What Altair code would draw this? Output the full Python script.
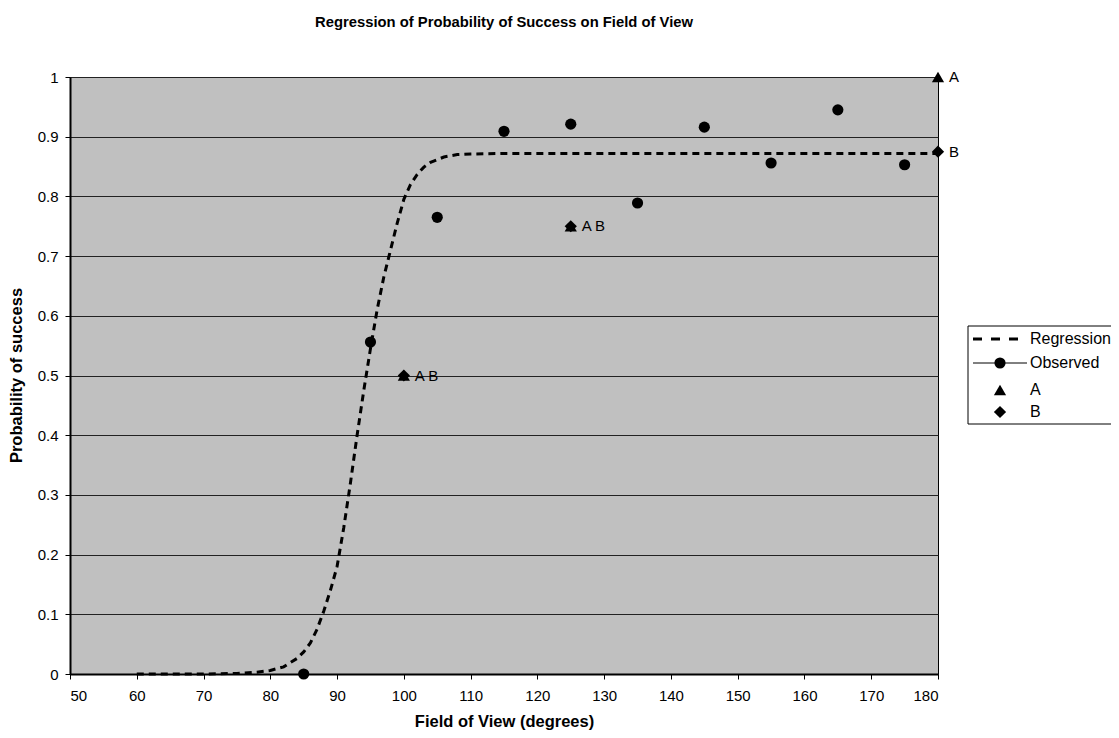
import altair as alt
import pandas as pd

FONT = "Liberation Sans"

# Regression curve
reg_x = [60, 65, 70, 75, 78, 80, 82, 84, 85, 86, 87, 88, 89, 90, 91, 92, 93, 94, 95,
         96, 97, 98, 99, 100, 101, 102, 103, 104, 106, 108, 110, 115, 120, 130, 140,
         150, 160, 170, 180]
reg_y = [0.0, 0.0, 0.0, 0.001, 0.003, 0.006, 0.012, 0.026, 0.037, 0.052, 0.075, 0.105,
         0.14, 0.18, 0.245, 0.32, 0.40, 0.475, 0.545, 0.61, 0.665, 0.71, 0.755, 0.795,
         0.82, 0.837, 0.849, 0.857, 0.866, 0.870, 0.871, 0.872, 0.872, 0.872, 0.872,
         0.872, 0.872, 0.872, 0.872]

# Observed
obs_x = [85, 95, 105, 115, 125, 135, 145, 155, 165, 175]
obs_y = [0.0, 0.556, 0.765, 0.909, 0.921, 0.789, 0.916, 0.856, 0.945, 0.853]

# Series A and B
a_x = [100, 125, 180]
a_y = [0.5, 0.75, 1.0]
b_x = [100, 125, 180]
b_y = [0.5, 0.75, 0.875]

# Point labels
lab_x = [100, 125, 180, 180]
lab_y = [0.5, 0.75, 1.0, 0.875]
lab_t = ["A B", "A B", "A", "B"]

legend_labels = ["Regression", "Observed", "A", "B"]

reg = pd.DataFrame({"x": reg_x, "y": reg_y})
obs = pd.DataFrame({"x": obs_x, "y": obs_y})
dfa = pd.DataFrame({"x": a_x, "y": a_y})
dfb = pd.DataFrame({"x": b_x, "y": b_y})
labs = pd.DataFrame({"x": lab_x, "y": lab_y, "t": lab_t})

xs = alt.Scale(domain=[50, 180], nice=False, zero=False)
ys = alt.Scale(domain=[0, 1], nice=False)

X = alt.X("x:Q", scale=xs, title="Field of View (degrees)",
          axis=alt.Axis(values=list(range(50, 181, 10)), grid=False, titleY=52,
                        titleBaseline="alphabetic"))
Y = alt.Y("y:Q", scale=ys, title="Probability of success",
          axis=alt.Axis(values=[round(i * 0.1, 1) for i in range(11)], format=".1~f",
                        grid=True, titleX=-54, titleY=298, titleBaseline="middle",
                        titleAlign="center", titleAngle=270))

MS_C, MS_T = 125, 150

line = alt.Chart(reg).mark_line(color="black", strokeWidth=3, strokeDash=[7, 5]).encode(x=X, y=Y)
pts = alt.Chart(obs).mark_point(shape="circle", filled=True, color="black", size=MS_C,
                                opacity=1).encode(x="x:Q", y="y:Q")
pa = alt.Chart(dfa).mark_point(shape="triangle-up", filled=True, color="black", size=MS_T,
                               opacity=1).encode(x="x:Q", y="y:Q")
pb = alt.Chart(dfb).mark_point(shape="diamond", filled=True, color="black", size=MS_T,
                               opacity=1).encode(x="x:Q", y="y:Q")
txt = alt.Chart(labs).mark_text(align="left", baseline="middle", dx=11, fontSize=15,
                                font=FONT, color="black").encode(x="x:Q", y="y:Q", text="t:N")

# Legend (positions relative to the plot area's top-left corner)
one = pd.DataFrame({"k": [0]})
OX, OY = 70, 77
LX, TX = 1000 - OX, 1030 - OX
rows_y = [339 - OY, 363 - OY, 390 - OY, 412 - OY]

leg_box = alt.Chart(one).mark_rect(fill="white", stroke="black", strokeWidth=1).encode(
    x=alt.value(968 - OX), x2=alt.value(1135 - OX), y=alt.value(326 - OY), y2=alt.value(424 - OY))
leg_reg = alt.Chart(one).mark_rule(color="black", strokeWidth=3, strokeDash=[9, 9]).encode(
    x=alt.value(973 - OX), x2=alt.value(1018 - OX), y=alt.value(rows_y[0]))
leg_obs_line = alt.Chart(one).mark_rule(color="black", strokeWidth=1).encode(
    x=alt.value(973 - OX), x2=alt.value(1027 - OX), y=alt.value(rows_y[1]))
leg_obs_pt = alt.Chart(one).mark_point(shape="circle", filled=True, color="black", size=MS_C,
                                       opacity=1).encode(x=alt.value(LX), y=alt.value(rows_y[1]))
leg_a = alt.Chart(one).mark_point(shape="triangle-up", filled=True, color="black", size=MS_T,
                                  opacity=1).encode(x=alt.value(LX), y=alt.value(rows_y[2]))
leg_b = alt.Chart(one).mark_point(shape="diamond", filled=True, color="black", size=MS_T,
                                  opacity=1).encode(x=alt.value(LX), y=alt.value(rows_y[3]))
leg_txt = [
    alt.Chart(one).mark_text(align="left", baseline="middle", fontSize=16, font=FONT,
                             color="black").encode(x=alt.value(TX), y=alt.value(yy),
                                                   text=alt.value(t))
    for t, yy in zip(legend_labels, rows_y)
]

chart = alt.layer(line, pts, pa, pb, txt, leg_box, leg_reg, leg_obs_line, leg_obs_pt,
                  leg_a, leg_b, *leg_txt).properties(
    width=868, height=597,
    title=alt.Title("Regression of Probability of Success on Field of View",
                    fontSize=14.8, font=FONT, fontWeight="bold", anchor="middle",
                    frame="group", offset=40, color="black"),
    autosize=alt.AutoSizeParams(type="none"),
    padding={"left": 62, "top": 69, "right": 173, "bottom": 56},
).configure_view(
    fill="#C0C0C0", stroke="black", strokeWidth=1
).configure_axis(
    labelFont=FONT, labelFontSize=15, labelColor="black",
    titleFont=FONT, titleFontSize=16.5, titleFontWeight="bold", titleColor="black",
    domainColor="black", domainWidth=2, tickColor="black", tickSize=5,
    gridColor="#222222", gridWidth=1, gridOpacity=1
).configure_axisX(labelPadding=9).configure_axisY(labelPadding=7)

chart.save("out.html", embed_options={"renderer": "svg", "actions": False})
